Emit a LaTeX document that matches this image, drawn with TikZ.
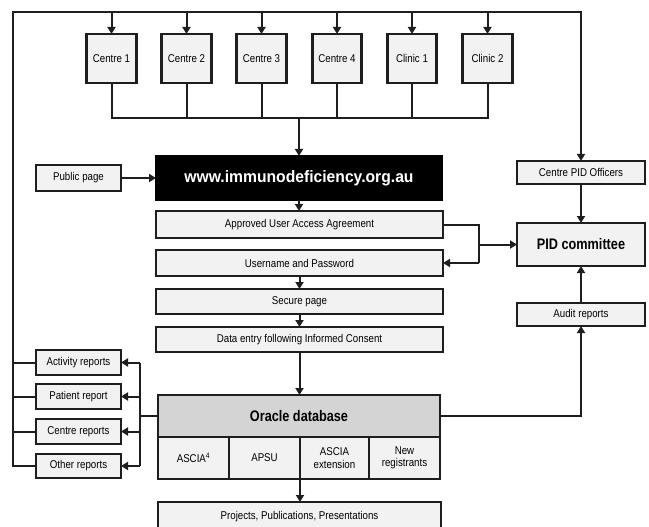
\documentclass[tikz,border=0pt]{standalone}
\usepackage{fontspec}
\setmainfont{Liberation Sans}
\newfontfamily\smallf{Liberation Sans}[FakeStretch=0.86]
\newfontfamily\bigf{Liberation Sans}[FakeStretch=0.83]
\newfontfamily\webf{Liberation Sans}[FakeStretch=0.95]
\usetikzlibrary{arrows.meta}
\definecolor{boxfill}{HTML}{F2F2F2}
\definecolor{dbfill}{HTML}{D4D4D4}
\definecolor{edge}{HTML}{1E1E1E}
\begin{document}
\begin{tikzpicture}[x=1pt,y=-1pt,
  box/.style={draw=edge, line width=2.6pt, fill=boxfill, inner sep=0pt, outer sep=0pt, align=center,
    font=\smallf\fontsize{11.3}{12.5}\selectfont},
  bigbox/.style={box, font=\bigf\bfseries\fontsize{15.3}{17}\selectfont},
  webbox/.style={box, draw=black, fill=black, text=white, font=\webf\bfseries\fontsize{16.5}{18}\selectfont},
  conn/.style={draw=edge, line width=2pt},
  arr/.style={conn, -{Triangle[length=7pt,width=8pt]}}
]
\useasboundingbox (0,0) rectangle (649,527);
\clip (0,0) rectangle (649,527);

% centres and clinics
\node[box, minimum width=49.5, minimum height=49] (c1) at (111.5,58.5) {Centre 1};
\node[box, minimum width=49.5, minimum height=49] (c2) at (186.5,58.5) {Centre 2};
\node[box, minimum width=49.5, minimum height=49] (c3) at (261.5,58.5) {Centre 3};
\node[box, minimum width=49.5, minimum height=49] (c4) at (337,58.5) {Centre 4};
\node[box, minimum width=49.5, minimum height=49] (c5) at (412,58.5) {Clinic 1};
\node[box, minimum width=49.5, minimum height=49] (c6) at (487.5,58.5) {Clinic 2};

% central column
\node[webbox, minimum width=286, minimum height=44] (web) at (299,178) {www.immunodeficiency.org.au};
\node[box, minimum width=85, minimum height=26] (public) at (78.5,178) {Public page};
\node[box, minimum width=287, minimum height=27] (approved) at (299.5,224.5) {Approved User Access Agreement};
\node[box, minimum width=287, minimum height=26] (user) at (299.5,263) {Username and Password};
\node[box, minimum width=287, minimum height=25] (secure) at (299.5,301.5) {Secure page};
\node[box, minimum width=287, minimum height=25] (data) at (299.5,339.5) {Data entry following Informed Consent};

% database
\node[bigbox, fill=dbfill, minimum width=282, minimum height=42] (oracle) at (299,416) {Oracle database};
\node[box, minimum width=71, minimum height=42] (ascia) at (193.5,458) {ASCIA\textsuperscript{4}};
\node[box, minimum width=71, minimum height=42] (apsu) at (264.5,458) {APSU};
\node[box, minimum width=69, minimum height=42] (ext) at (334.5,458) {ASCIA\\extension};
\node[box, minimum width=71, minimum height=42] (newreg) at (404.5,458) {New\\registrants};
\node[box, minimum width=283, minimum height=30] (proj) at (299.5,517) {Projects, Publications, Presentations};

% right column
\node[box, minimum width=128, minimum height=23] (cpo) at (581,172.5) {Centre PID Officers};
\node[bigbox, minimum width=128, minimum height=43] (pid) at (581,244.5) {PID committee};
\node[box, minimum width=128, minimum height=23] (audit) at (581,314.5) {Audit reports};

% reports
\node[box, minimum width=85, minimum height=25] (activity) at (78.5,362.5) {Activity reports};
\node[box, minimum width=85, minimum height=25] (patient) at (78.5,396.5) {Patient report};
\node[box, minimum width=85, minimum height=25] (centrerep) at (78.5,431.5) {Centre reports};
\node[box, minimum width=85, minimum height=24] (other) at (78.5,466) {Other reports};

% coordinates
\coordinate (tl) at (13,12);
\coordinate (bus) at (299,118.5);
\coordinate (j) at (479,244.5);
\coordinate (rv) at (140,416);

% outer feedback frame
\draw[arr] (other.west) -| (tl) -| (cpo.north);
\foreach \n in {activity,patient,centrerep}
  \draw[conn] (\n.west) -- (\n.west -| tl);
\foreach \n in {c1,c2,c3,c4,c5,c6}
  \draw[arr] (\n.north |- tl) -- (\n.north);

% bus from centres
\draw[conn] (c1.south) -- (c1.south |- bus) -- (c6.south |- bus) -- (c6.south);
\foreach \n in {c2,c3,c4,c5}
  \draw[conn] (\n.south) -- (\n.south |- bus);
\draw[arr] (bus) -- (bus |- web.north);

% central flow
\draw[arr] (public.east) -- (public.east -| web.west);
\draw[arr] (web.south) -- (web.south |- approved.north);
\draw[conn] (approved.east) -- (approved.east -| j) -- (j |- user.east);
\draw[arr] (j |- user.east) -- (user.east);
\draw[arr] (j) -- (j -| pid.west);
\draw[arr] (user.south) -- (secure.north);
\draw[arr] (secure.south) -- (data.north);
\draw[arr] (data.south) -- (data.south |- oracle.north);
\draw[arr] (apsu.south east) -- (apsu.south east |- proj.north);

% right column
\draw[arr] (cpo.south) -- (pid.north);
\draw[arr] (audit.north) -- (pid.south);
\draw[arr] (oracle.east) -| (audit.south);

% reports
\draw[conn] (oracle.west) -- (rv);
\draw[conn] (rv |- activity.east) -- (rv |- other.east);
\foreach \n in {activity,patient,centrerep,other}
  \draw[arr] (rv |- \n.east) -- (\n.east);
\end{tikzpicture}
\end{document}
